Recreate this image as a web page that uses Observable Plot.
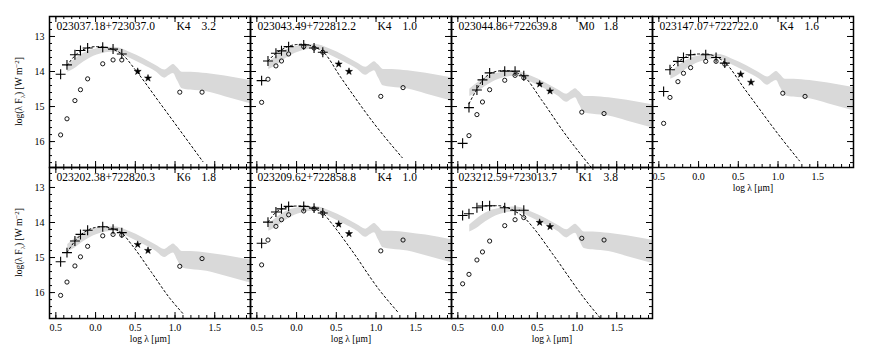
<!DOCTYPE html>
<html><head><meta charset="utf-8">
<script src="https://cdn.jsdelivr.net/npm/d3@7"></script>
<script src="https://cdn.jsdelivr.net/npm/@observablehq/plot@0.6"></script>
<style>
body{margin:0;background:#fff;}
#fig{position:relative;width:872px;height:352px;overflow:hidden;background:#fff;}
#fig svg{position:absolute;}
</style></head><body><div id="fig"></div>
<script>
// ---- data ----
const names = ["023037.18+723037.0","023043.49+722812.2","023044.86+722639.8","023147.07+722722.0",
               "023202.38+722820.3","023209.62+722858.8","023212.59+723013.7"];
const spTypes = ["K4","K4","M0","K4","K6","K4","K1"];
const avValues = ["3.2","1.0","1.8","1.6","1.8","1.0","3.8"];

// log wavelength (um) of the bands: U B V R I J H K
const optLam = [-0.44,-0.36,-0.26,-0.19,-0.10,0.09,0.22,0.33];
// W1 W2 (stars)
const w12Lam = [0.53,0.66];
// observed (circles): U B V R I J H K W3 W4
const obsLam = [-0.44,-0.36,-0.26,-0.19,-0.10,0.09,0.22,0.33,1.06,1.34];

// dereddened photometry (plus symbols)
const dered = [
  [-14.08,-13.81,-13.52,-13.40,-13.33,-13.31,-13.36,-13.50],
  [-14.26,-13.70,-13.48,-13.41,-13.29,-13.24,-13.33,-13.45],
  [-16.05,-15.03,-14.53,-14.24,-14.04,-13.99,-13.99,-14.12],
  [-14.57,-13.95,-13.71,-13.60,-13.52,-13.52,-13.60,-13.76],
  [-15.12,-14.86,-14.53,-14.34,-14.22,-14.12,-14.19,-14.29],
  [-14.59,-13.99,-13.70,-13.61,-13.54,-13.54,-13.59,-13.73],
  [-13.80,-13.75,-13.58,-13.53,-13.52,-13.58,-13.65,-13.65]
];
// observed photometry (open circles)
const observed = [
  [-15.81,-15.35,-14.83,-14.52,-14.21,-13.78,-13.67,-13.67,-14.59,-14.59],
  [-14.88,-14.22,-13.84,-13.70,-13.50,-13.29,-13.33,-13.45,-14.71,-14.46],
  [null,  -15.83,-15.23,-14.87,-14.52,-14.25,-14.11,-14.18,-15.16,-15.20],
  [-15.48,-14.74,-14.29,-14.05,-13.89,-13.71,-13.71,-13.79,-14.62,-14.71],
  [-16.08,-15.70,-15.24,-14.98,-14.68,-14.38,-14.34,-14.36,-15.25,-15.03],
  [-15.21,-14.50,-14.11,-13.92,-13.78,-13.67,-13.61,-13.73,-14.81,-14.50],
  [-15.75,-15.48,-15.07,-14.84,-14.53,-14.09,-13.92,-13.86,-14.45,-14.50]
];
// W1, W2 (filled stars)
const w12 = [
  [-14.00,-14.19],[-13.79,-14.00],[-14.36,-14.56],[-14.08,-14.31],
  [-14.63,-14.80],[-14.05,-14.32],[-14.00,-14.12]
];
// photosphere model (dashed line)
const modelX = [
  [-0.36,-0.26,-0.19,-0.10,0.00,0.09,0.22,0.33,0.50,0.80,1.35],
  [-0.36,-0.26,-0.19,-0.10,0.00,0.09,0.22,0.33,0.56,0.98,1.33],
  [-0.36,-0.26,-0.19,-0.10,0.00,0.09,0.22,0.33,0.55,0.83,1.18],
  [-0.36,-0.26,-0.19,-0.10,0.00,0.09,0.22,0.33,0.58,1.04,1.27],
  [-0.36,-0.26,-0.19,-0.10,0.00,0.09,0.22,0.33,0.45,0.70,0.93,1.10],
  [-0.36,-0.26,-0.19,-0.10,0.00,0.09,0.22,0.33,0.45,0.69,1.04,1.28],
  [-0.10,0.00,0.09,0.22,0.33,0.45,0.70,1.12,1.29]
];
const modelY = [
  [-13.83,-13.55,-13.42,-13.33,-13.29,-13.30,-13.37,-13.50,-13.95,-14.87,-16.57],
  [-13.70,-13.48,-13.38,-13.28,-13.23,-13.22,-13.30,-13.43,-14.18,-15.50,-16.46],
  [-14.92,-14.50,-14.25,-14.07,-13.99,-13.97,-14.02,-14.14,-14.80,-15.72,-16.74],
  [-13.93,-13.72,-13.62,-13.53,-13.50,-13.50,-13.58,-13.74,-14.50,-15.90,-16.55],
  [-14.86,-14.53,-14.36,-14.22,-14.14,-14.12,-14.18,-14.30,-14.62,-15.41,-16.15,-16.60],
  [-13.99,-13.71,-13.62,-13.55,-13.53,-13.53,-13.60,-13.73,-14.05,-14.78,-15.92,-16.57],
  [-13.53,-13.52,-13.55,-13.68,-13.85,-14.15,-14.92,-16.25,-16.72]
];
// median SED band (grey), with per-star normalisation offset
const bandLam   = [-0.35,-0.27,-0.15,0.02,0.24,0.42,0.60,0.76,0.87,0.93,0.98,1.03,1.09,1.20,1.40,1.63,1.95];
const bandUpper = [-14.51,-14.36,-14.17,-14.04,-14.00,-14.13,-14.32,-14.52,-14.65,-14.56,-14.49,-14.58,-14.71,-14.71,-14.75,-14.82,-14.95];
const bandLower = [-14.71,-14.62,-14.42,-14.22,-14.13,-14.30,-14.50,-14.70,-14.88,-14.80,-14.75,-14.95,-15.18,-15.22,-15.27,-15.41,-15.61];
const bandOffset = [0.69,0.77,0.00,0.49,-0.12,0.46,0.44];

// axes
const xMajor = [-0.5,0.0,0.5,1.0,1.5];
const xTickLabels = ["0.5","0.0","0.5","1.0","1.5"];
const yMajor = [-13,-14,-15,-16];
const yTickLabels = ["13","14","15","16"];
const xLabel = "log \u03bb [\u03bcm]";

// ---- drawing ----
const W = 201, H = 151, mL = 40, mR = 4, mT = 4, mB = 30;
const fig = document.getElementById("fig");
const xMinor = d3.range(-0.5, 1.95, 0.1).map(v => +v.toFixed(2));
const yMinor = d3.range(-16.6, -12.45, 0.2).map(v => +v.toFixed(2));
const font = "'Liberation Serif', 'Times New Roman', serif";

names.forEach((name, i) => {
  const row = i < 4 ? 0 : 1, col = i < 4 ? i : i - 4;
  const bottomLabels = (row === 1) || (i === 3);
  const leftLabels = col === 0;
  const optRows = optLam.map((x, j) => ({x, y: dered[i][j]}));
  const obsRows = obsLam.map((x, j) => ({x, y: observed[i][j]})).filter(d => d.y != null);
  const starRows = w12Lam.map((x, j) => ({x, y: w12[i][j]}));
  const bandRows = bandLam.map((x, j) => ({x, lo: bandLower[j] + bandOffset[i], hi: bandUpper[j] + bandOffset[i]}));
  const modelRows = modelX[i].map((x, j) => ({x, y: modelY[i][j]}));

  const marks = [
    Plot.areaY(bandRows, {x: "x", y1: "lo", y2: "hi", fill: "#d9d9d9", curve: "monotone-x", clip: true}),
    Plot.line(modelRows, {x: "x", y: "y", stroke: "#000", strokeWidth: 1, strokeDasharray: "2,2.6", curve: "monotone-x", clip: true}),
    Plot.dot(obsRows, {x: "x", y: "y", r: 2.1, stroke: "#000", strokeWidth: 0.9, fill: "none"}),
    Plot.dot(starRows, {x: "x", y: "y", symbol: "star", r: 2.2, fill: "#000", stroke: "#000", strokeWidth: 0.5}),
    Plot.dot(optRows, {x: "x", y: "y", symbol: "plus", r: 3.3, stroke: "#000", strokeWidth: 1.1}),
    // inward ticks on all four sides
    Plot.tickX(xMinor, {x: d => d, insetTop: H - 3, stroke: "#000"}),
    Plot.tickX(xMinor, {x: d => d, insetBottom: H - 3, stroke: "#000"}),
    Plot.tickX(xMajor, {x: d => d, insetTop: H - 6, stroke: "#000"}),
    Plot.tickX(xMajor, {x: d => d, insetBottom: H - 6, stroke: "#000"}),
    Plot.tickY(yMinor, {y: d => d, insetRight: W - 3, stroke: "#000"}),
    Plot.tickY(yMinor, {y: d => d, insetLeft: W - 3, stroke: "#000"}),
    Plot.tickY(yMajor, {y: d => d, insetRight: W - 6, stroke: "#000"}),
    Plot.tickY(yMajor, {y: d => d, insetLeft: W - 6, stroke: "#000"}),
    Plot.frame({stroke: "#000", strokeWidth: 1.5}),
    Plot.text([name], {frameAnchor: "top-left", dx: 7, dy: 10, textAnchor: "start", lineAnchor: "middle", fontSize: 11.5, fill: "#000"}),
    Plot.text([spTypes[i]], {frameAnchor: "top-left", dx: 127, dy: 10, textAnchor: "start", lineAnchor: "middle", fontSize: 11.5, fill: "#000"}),
    Plot.text([avValues[i]], {frameAnchor: "top-left", dx: 152, dy: 10, textAnchor: "start", lineAnchor: "middle", fontSize: 11.5, fill: "#000"})
  ];
  if (bottomLabels) {
    marks.push(Plot.text(xMajor, {x: d => d, text: (d, j) => xTickLabels[j], frameAnchor: "bottom", dy: 9, lineAnchor: "middle", fontSize: 10, fill: "#000"}));
    marks.push(Plot.text([xLabel], {frameAnchor: "bottom", dy: 20, lineAnchor: "middle", fontSize: 9.5, fill: "#000"}));
  }
  if (leftLabels) {
    marks.push(Plot.text(yMajor, {y: d => d, text: (d, j) => yTickLabels[j], frameAnchor: "left", dx: -5, textAnchor: "end", fontSize: 10, fill: "#000"}));
  }

  const svg = Plot.plot({
    width: W + mL + mR, height: H + mT + mB,
    marginLeft: mL, marginRight: mR, marginTop: mT, marginBottom: mB,
    x: {domain: [-0.58, 1.95], axis: null},
    y: {domain: [-16.74, -12.43], axis: null},
    style: {background: "transparent", overflow: "visible", fontFamily: font, color: "#000"},
    marks
  });
  const left = 49 + 201 * col - mL, top = 16 + 151 * row - mT;
  svg.style.left = left + "px";
  svg.style.top = top + "px";
  svg.style.position = "absolute";

  if (leftLabels) {
    const t = d3.select(svg).append("text")
      .attr("transform", `translate(${mL - 27},${mT + H / 2}) rotate(-90)`)
      .attr("text-anchor", "middle")
      .attr("font-family", font)
      .attr("font-size", 9.5)
      .attr("fill", "#000");
    t.append("tspan").text("log(\u03bb F");
    t.append("tspan").attr("dy", 2.5).attr("font-size", 7).text("\u03bb");
    t.append("tspan").attr("dy", -2.5).text(") [W m");
    t.append("tspan").attr("dy", -3.5).attr("font-size", 7).text("\u22122");
    t.append("tspan").attr("dy", 3.5).text("]");
  }
  fig.appendChild(svg);
});
</script>
</body></html>
